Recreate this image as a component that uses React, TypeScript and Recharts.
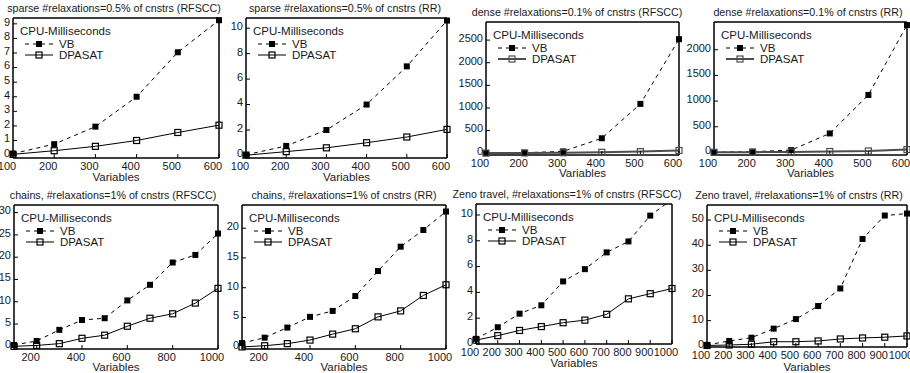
import React from 'react';
import { LineChart, Line, XAxis, YAxis, Legend, ReferenceArea } from 'recharts';

const FONT = '"Liberation Sans", Arial, Helvetica, sans-serif';
const INK = '#1a1a1a';

// Variables (x values)
const varsSmall = [100, 200, 300, 400, 500, 600];
const varsLarge = [100, 200, 300, 400, 500, 600, 700, 800, 900, 1000];

// x tick labels
const xTicksSmall = [100, 200, 300, 400, 500, 600];
const xTicksChains = [200, 400, 600, 800, 1000];
const xTicksZeno = [100, 200, 300, 400, 500, 600, 700, 800, 900, 1000];

// y tick labels
const yTicksSparseRfscc = [0, 1, 2, 3, 4, 5, 6, 7, 8, 9];
const yTicksSparseRr = [0, 2, 4, 6, 8, 10];
const yTicksDenseRfscc = [0, 500, 1000, 1500, 2000, 2500];
const yTicksDenseRr = [0, 500, 1000, 1500, 2000];
const yTicksChainsRfscc = [0, 5, 10, 15, 20, 25, 30];
const yTicksChainsRr = [0, 5, 10, 15, 20];
const yTicksZenoRfscc = [0, 2, 4, 6, 8, 10];
const yTicksZenoRr = [0, 10, 20, 30, 40, 50];

// CPU milliseconds
const sparseRfsccVB = [0.1, 0.75, 1.95, 4.0, 7.05, 9.25];
const sparseRfsccDP = [0.05, 0.3, 0.6, 1.0, 1.55, 2.05];
const sparseRrVB = [0.05, 0.75, 2.0, 4.0, 7.0, 10.6];
const sparseRrDP = [0.02, 0.3, 0.6, 1.0, 1.45, 2.05];
const denseRfsccVB = [5, 10, 40, 330, 1090, 2520];
const denseRfsccDP = [2, 5, 10, 20, 35, 60];
const denseRrVB = [5, 15, 45, 370, 1120, 2480];
const denseRrDP = [2, 5, 10, 18, 28, 55];
const chainsRfsccVB = [0.3, 1.2, 3.7, 5.9, 6.3, 10.3, 13.8, 18.8, 20.5, 25.3];
const chainsRfsccDP = [0, 0.2, 0.6, 1.8, 2.5, 4.5, 6.3, 7.3, 9.7, 13.0];
const chainsRrVB = [0.7, 1.6, 3.3, 5.1, 6.1, 8.6, 12.8, 16.9, 19.7, 22.8];
const chainsRrDP = [0.05, 0.25, 0.6, 1.2, 2.2, 3.1, 5.1, 6.1, 8.7, 10.5];
const zenoRfsccVB = [0.4, 1.3, 2.35, 3.0, 4.85, 5.8, 7.1, 7.95, 9.95, 11.2];
const zenoRfsccDP = [0.3, 0.65, 1.05, 1.35, 1.65, 1.85, 2.3, 3.5, 3.9, 4.3];
const zenoRrVB = [0.3, 1.9, 3.2, 6.8, 10.6, 15.8, 22.8, 42.5, 51.8, 52.6];
const zenoRrDP = [0.1, 0.3, 0.6, 1.6, 1.6, 1.9, 2.7, 3.1, 3.4, 3.9];

type Box = { l: number; t: number; r: number; b: number };
type PanelProps = {
  title: string;
  titleX: number;
  titleY: number;
  xlabY: number;
  cell: { x: number; y: number; w: number; h: number };
  frame: Box;
  xs: number[];
  vb: number[];
  dp: number[];
  xTicks: number[];
  yTicks: number[];
  yDomain: [number, number];
  dense?: boolean;
  clip?: boolean;
};

function LegendBox({ dense }: { dense?: boolean }) {
  const dpColor = dense ? '#4d4d4d' : '#000';
  const dpWidth = dense ? 2 : 1;
  const txt = { fontSize: 11.5, fontFamily: FONT, fill: INK };
  return (
    <svg width={120} height={44} style={{ display: 'block', overflow: 'visible' }}>
      <text x={0} y={12} {...txt}>CPU-Milliseconds</text>
      <line x1={5} x2={33} y1={21} y2={21} stroke="#000" strokeDasharray="4 4" />
      <rect x={16} y={18} width={6} height={6} fill="#000" />
      <text x={39} y={25} {...txt}>VB</text>
      <line x1={5} x2={33} y1={32} y2={32} stroke={dpColor} strokeWidth={dpWidth} />
      <rect x={16} y={29} width={6} height={6} fill="none" stroke={dpColor} strokeWidth={1.2} />
      <text x={39} y={36} {...txt}>DPASAT</text>
    </svg>
  );
}

function Panel(p: PanelProps) {
  const data = p.xs.map((x, i) => ({ x, vb: p.vb[i], dp: p.dp[i] }));
  const xDomain: [number, number] = [p.xs[0], p.xs[p.xs.length - 1]];
  const dpColor = p.dense ? '#4d4d4d' : '#000';
  const dpWidth = p.dense ? 2 : 1;
  // one pixel is kept for the mirrored top / right axes
  const margin = {
    top: p.frame.t - p.cell.y - 1,
    right: p.cell.x + p.cell.w - p.frame.r - 1,
    bottom: 0,
    left: 0,
  };
  const yW = p.frame.l - p.cell.x;
  const xH = p.cell.y + p.cell.h - p.frame.b;
  const tickStyle = { fill: INK, fontSize: 11, fontFamily: FONT };

  const filledSquare = (d: any) => {
    if (d.cx == null || d.cy == null) return <g key={`vb-${d.index}`} />;
    return <rect key={`vb-${d.index}`} x={d.cx - 3} y={d.cy - 3} width={6} height={6} fill="#000" />;
  };
  const hollowSquare = (d: any) => {
    if (d.cx == null || d.cy == null) return <g key={`dp-${d.index}`} />;
    return (
      <rect key={`dp-${d.index}`} x={d.cx - 3} y={d.cy - 3} width={6} height={6}
        fill="none" stroke={dpColor} strokeWidth={1.2} />
    );
  };

  return (
    <div style={{ position: 'absolute', left: p.cell.x, top: p.cell.y, width: p.cell.w, height: p.cell.h }}>
      <div
        style={{
          position: 'absolute',
          left: p.titleX - p.cell.x,
          top: p.titleY - p.cell.y,
          transform: 'translate(-50%, -50%)',
          whiteSpace: 'nowrap',
          fontSize: 10.7,
          lineHeight: '13px',
          color: INK,
          fontFamily: FONT,
        }}
      >
        {p.title}
      </div>
      <LineChart width={p.cell.w} height={p.cell.h} data={data} margin={margin}>
        <XAxis
          xAxisId="b"
          dataKey="x"
          type="number"
          domain={xDomain}
          ticks={p.xTicks}
          interval={0}
          height={xH}
          stroke="#000"
          tickSize={-4}
          tickMargin={8}
          tick={{ ...tickStyle, dx: -6 }}
          label={{
            value: 'Variables',
            position: 'insideBottom',
            offset: p.cell.y + p.cell.h - p.xlabY,
            fill: INK,
            fontSize: 11.5,
            fontFamily: FONT,
          }}
        />
        <XAxis
          xAxisId="t"
          orientation="top"
          dataKey="x"
          type="number"
          domain={xDomain}
          ticks={p.xTicks}
          interval={0}
          height={1}
          tick={false}
          tickSize={-4}
          stroke="#000"
        />
        <YAxis
          yAxisId="l"
          type="number"
          domain={p.yDomain}
          allowDataOverflow={!!p.clip}
          ticks={p.yTicks}
          interval={0}
          width={yW}
          stroke="#000"
          tickSize={-4}
          tickMargin={7}
          tick={{ ...tickStyle, dy: -2 }}
        />
        <YAxis
          yAxisId="r"
          orientation="right"
          type="number"
          domain={p.yDomain}
          allowDataOverflow={!!p.clip}
          ticks={p.yTicks}
          interval={0}
          width={1}
          tick={false}
          tickSize={-4}
          stroke="#000"
        />
        <ReferenceArea
          xAxisId="b"
          yAxisId="l"
          x1={xDomain[0]}
          x2={xDomain[1]}
          y1={p.yDomain[0]}
          y2={p.yDomain[1]}
          fill="none"
          stroke="#000"
          strokeWidth={1}
          ifOverflow="visible"
        />
        <Legend
          layout="vertical"
          align="center"
          verticalAlign="middle"
          wrapperStyle={{ left: p.frame.l - p.cell.x + 7, top: p.frame.t - p.cell.y + 5, width: 120 }}
          content={() => <LegendBox dense={p.dense} />}
        />
        {/* invisible series that ties the mirrored frame axes to the data */}
        <Line
          xAxisId="t"
          yAxisId="r"
          type="linear"
          dataKey="dp"
          stroke="none"
          dot={false}
          activeDot={false}
          legendType="none"
          isAnimationActive={false}
        />
        <Line
          xAxisId="b"
          yAxisId="l"
          type="linear"
          dataKey="vb"
          name="VB"
          stroke="#000"
          strokeWidth={1}
          strokeDasharray="4 4"
          dot={filledSquare}
          isAnimationActive={false}
        />
        <Line
          xAxisId="b"
          yAxisId="l"
          type="linear"
          dataKey="dp"
          name="DPASAT"
          stroke={dpColor}
          strokeWidth={dpWidth}
          dot={hollowSquare}
          isAnimationActive={false}
        />
      </LineChart>
    </div>
  );
}

const TOP = { y: 0, h: 186 };
const BOT = { y: 186, h: 187 };

const panels: PanelProps[] = [
  {
    title: 'sparse #relaxations=0.5% of cnstrs (RFSCC)', titleX: 114, titleY: 8, xlabY: 181,
    cell: { x: 0, y: TOP.y, w: 226, h: TOP.h }, frame: { l: 13, t: 18, r: 219, b: 158 },
    xs: varsSmall, vb: sparseRfsccVB, dp: sparseRfsccDP, xTicks: xTicksSmall,
    yTicks: yTicksSparseRfscc, yDomain: [-0.2, 9.4],
  },
  {
    title: 'sparse #relaxations=0.5% of cnstrs (RR)', titleX: 345, titleY: 8, xlabY: 181,
    cell: { x: 226, y: TOP.y, w: 228, h: TOP.h }, frame: { l: 246, t: 18, r: 447, b: 158 },
    xs: varsSmall, vb: sparseRrVB, dp: sparseRrDP, xTicks: xTicksSmall,
    yTicks: yTicksSparseRr, yDomain: [-0.2, 10.8],
  },
  {
    title: 'dense #relaxations=0.1% of cnstrs (RFSCC)', titleX: 577, titleY: 12, xlabY: 177,
    cell: { x: 454, y: TOP.y, w: 230, h: TOP.h }, frame: { l: 486, t: 22, r: 679, b: 155 },
    xs: varsSmall, vb: denseRfsccVB, dp: denseRfsccDP, xTicks: xTicksSmall,
    yTicks: yTicksDenseRfscc, yDomain: [-40, 2900], dense: true,
  },
  {
    title: 'dense #relaxations=0.1% of cnstrs (RR)', titleX: 808, titleY: 12, xlabY: 177,
    cell: { x: 684, y: TOP.y, w: 226, h: TOP.h }, frame: { l: 714, t: 22, r: 907, b: 155 },
    xs: varsSmall, vb: denseRrVB, dp: denseRrDP, xTicks: xTicksSmall,
    yTicks: yTicksDenseRr, yDomain: [-50, 2540], dense: true,
  },
  {
    title: 'chains, #relaxations=1% of cnstrs (RFSCC)', titleX: 113, titleY: 195, xlabY: 371,
    cell: { x: 0, y: BOT.y, w: 226, h: BOT.h }, frame: { l: 14, t: 205, r: 218, b: 349 },
    xs: varsLarge, vb: chainsRfsccVB, dp: chainsRfsccDP, xTicks: xTicksChains,
    yTicks: yTicksChainsRfscc, yDomain: [-0.6, 31.7],
  },
  {
    title: 'chains, #relaxations=1% of cnstrs (RR)', titleX: 344, titleY: 195, xlabY: 371,
    cell: { x: 226, y: BOT.y, w: 228, h: BOT.h }, frame: { l: 242, t: 205, r: 446, b: 349 },
    xs: varsLarge, vb: chainsRrVB, dp: chainsRrDP, xTicks: xTicksChains,
    yTicks: yTicksChainsRr, yDomain: [-0.3, 23.9],
  },
  {
    title: 'Zeno travel, #relaxations=1% of cnstrs (RFSCC)', titleX: 567, titleY: 194, xlabY: 367,
    cell: { x: 454, y: BOT.y, w: 230, h: BOT.h }, frame: { l: 476, t: 204, r: 672, b: 344 },
    xs: varsLarge, vb: zenoRfsccVB, dp: zenoRfsccDP, xTicks: xTicksZeno,
    yTicks: yTicksZenoRfscc, yDomain: [0, 10.85], clip: true,
  },
  {
    title: 'Zeno travel, #relaxations=1% of cnstrs (RR)', titleX: 799, titleY: 195, xlabY: 371,
    cell: { x: 684, y: BOT.y, w: 226, h: BOT.h }, frame: { l: 707, t: 205, r: 907, b: 347 },
    xs: varsLarge, vb: zenoRrVB, dp: zenoRrDP, xTicks: xTicksZeno,
    yTicks: yTicksZenoRr, yDomain: [-0.5, 56],
  },
];

export default function App() {
  return (
    <div
      style={{
        position: 'absolute',
        left: 0,
        top: 0,
        width: 910,
        height: 373,
        background: '#fff',
        overflow: 'hidden',
        fontFamily: FONT,
      }}
    >
      <style>{'.recharts-surface{overflow:visible}'}</style>
      {panels.map((p) => (
        <Panel key={p.title} {...p} />
      ))}
    </div>
  );
}
